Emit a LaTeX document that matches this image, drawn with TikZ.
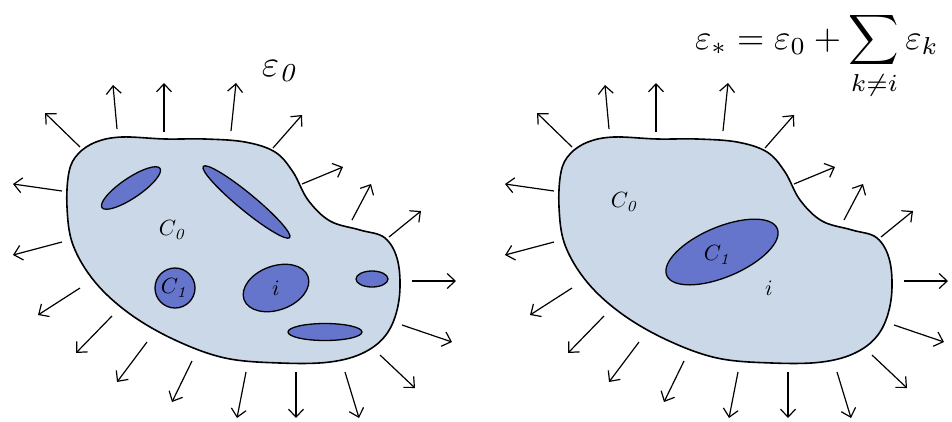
\documentclass[tikz,border=0pt]{standalone}
\usepackage{amsmath,amssymb}
\usetikzlibrary{arrows.meta}
\definecolor{cellfill}{RGB}{203,216,232}
\definecolor{grainfill}{RGB}{102,117,204}

\begin{document}
\begin{tikzpicture}[
  x=1pt,y=-1pt,>={Straight Barb[length=8pt,width=15pt]},
  medium/.style={draw,line width=1.6pt,fill=cellfill},
  grain/.style={draw,line width=1.3pt,fill=grainfill},
  flux/.style={->,line width=1.2pt},
  lbl/.style={inner sep=0pt,scale=2.2,transform shape},
  big/.style={inner sep=0pt,transform shape}
]
\useasboundingbox (0,0) rectangle (952,421);
% the same body with its outward field, twice
\foreach \dx in {0,492}{
  \begin{scope}[xshift=\dx]
    \draw[medium] plot[smooth cycle,tension=0.6] coordinates {
      (69,172) (78,154) (96,142) (122,137) (165,139) (205,139) (245,142)
      (275,152) (293,172) (308,200) (330,221) (360,230) (385,238) (398,262)
      (399,300) (388,332) (365,352) (330,362) (280,363) (225,358) (175,340)
      (130,314) (95,282) (73,245) (67,207)};
    \foreach \xa/\ya/\xb/\yb in {80/147/45/113, 117/129/113/85, 164/132/164/83,
        231/131/236/83, 273/148/302/115, 302/184/343/167, 352/220/371/184,
        389/237/421/211, 412/281/456/281, 402/325/452/342, 380/355/415/388,
        345/372/359/418, 296/372/296/418, 246/372/237/418, 192/361/172/402,
        147/342/117/382, 112/316/76/353, 80/288/38/315, 62/242/13/255,
        62/191/13/184}
      \draw[flux] (\xa,\ya) -- (\xb,\yb);
  \end{scope}
}
% inclusions, left
\draw[grain] (131,188) ellipse [x radius=35,y radius=10,rotate=34];
\draw[grain] (246.5,202) ellipse [x radius=56,y radius=8.5,rotate=-39.5];
\draw[grain] (175,288) circle [radius=20];
\draw[grain] (276,288) ellipse [x radius=34,y radius=22,rotate=20];
\draw[grain] (372,279) ellipse [x radius=16,y radius=8];
\draw[grain] (325,332) ellipse [x radius=37,y radius=8.5];
% inclusion, right
\draw[grain] (722,252) ellipse [x radius=60,y radius=25,rotate=23];

\node[lbl] (c0L) at (173,230) {$C_{\mathit{0}}$};
\node[lbl] (c1L) at (175,288) {$C_{\mathit{1}}$};
\node[lbl] (iL)  at (276,288) {$i$};
\node[big,scale=3.7] (eps0) at (281,71) {$\varepsilon_{\mathit{0}}$};

\node[lbl] (c0R) at (625,202) {$C_{\mathit{0}}$};
\node[lbl] (c1R) at (718,255) {$C_{\mathit{1}}$};
\node[lbl] (iR)  at (769,288) {$i$};
\node[big,scale=3.5] (sumeq) at (817,56)
  {$\displaystyle\varepsilon_*=\varepsilon_0+\sum_{k\neq i}\varepsilon_k$};
\end{tikzpicture}
\end{document}
